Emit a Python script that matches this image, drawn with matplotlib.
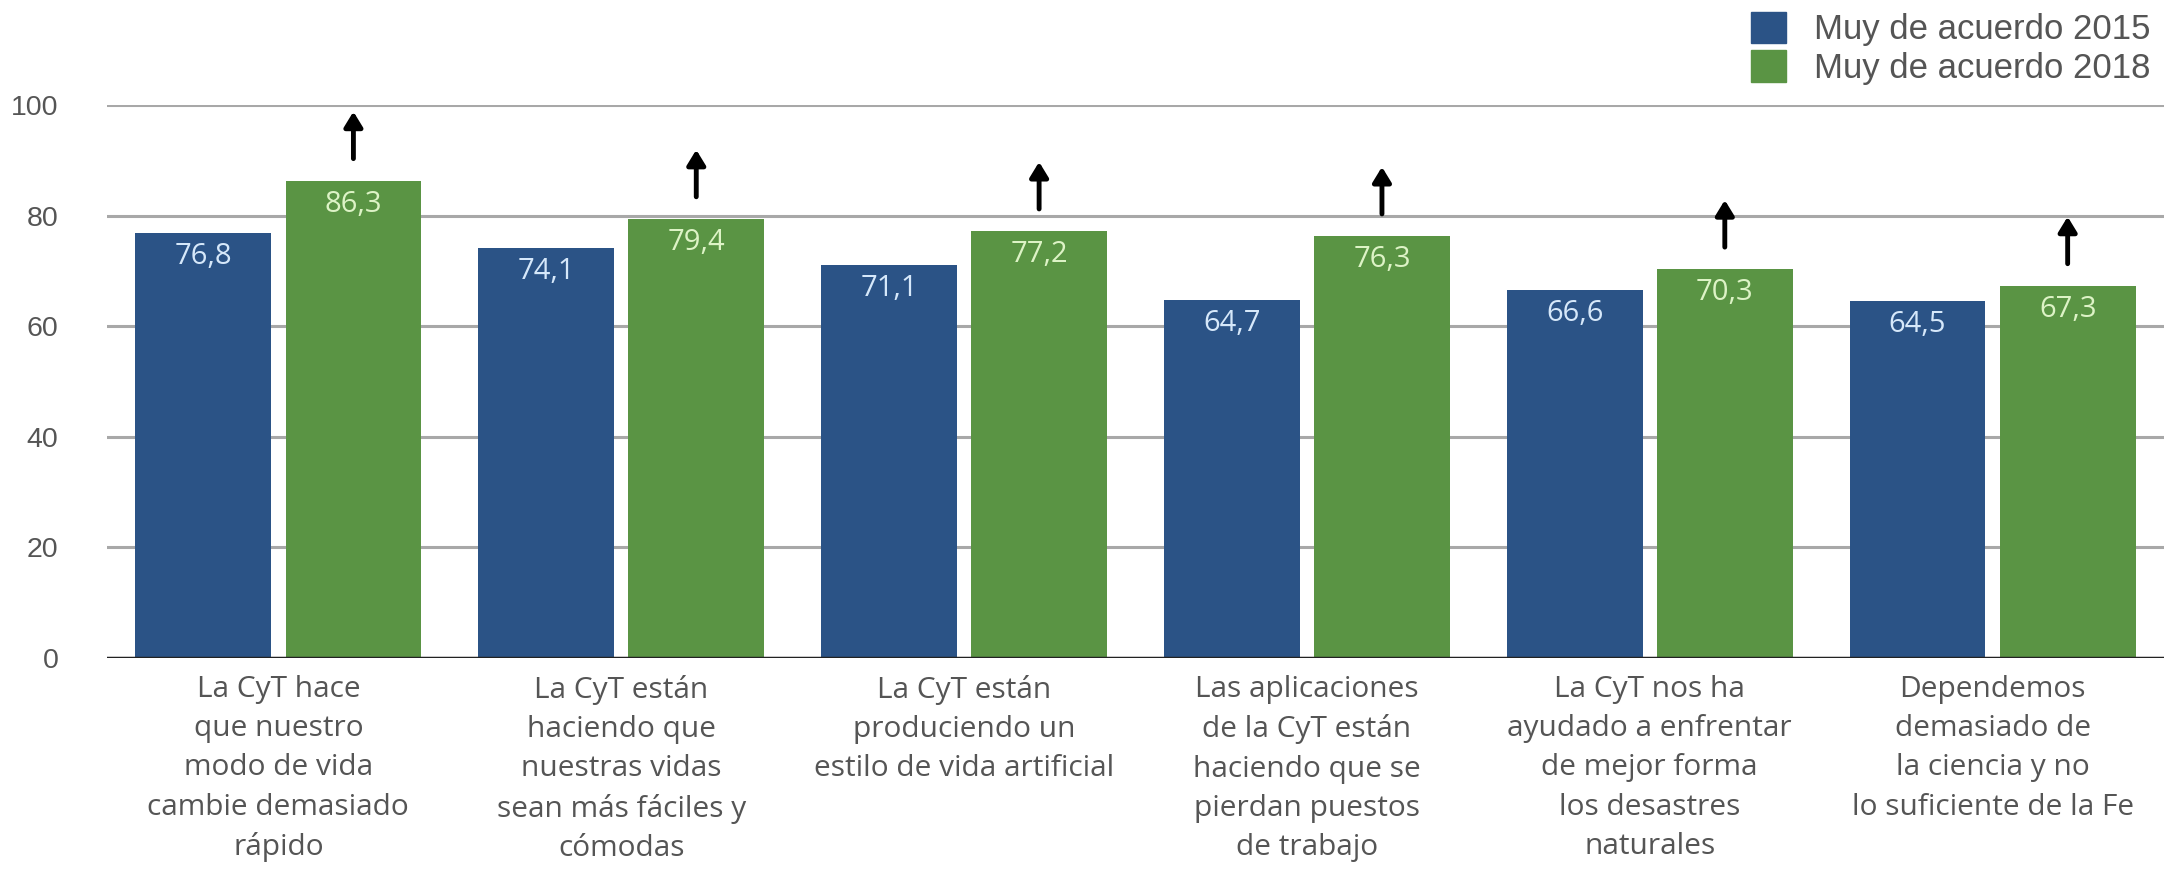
import matplotlib
matplotlib.use("Agg")
import matplotlib.pyplot as plt
import numpy as np
from matplotlib.patches import Patch

categories = [
    "La CyT hace\nque nuestro\nmodo de vida\ncambie demasiado\nrápido",
    "La CyT están\nhaciendo que\nnuestras vidas\nsean más fáciles y\ncómodas",
    "La CyT están\nproduciendo un\nestilo de vida artificial",
    "Las aplicaciones\nde la CyT están\nhaciendo que se\npierdan puestos\nde trabajo",
    "La CyT nos ha\nayudado a enfrentar\nde mejor forma\nlos desastres\nnaturales",
    "Dependemos\ndemasiado de\nla ciencia y no\nlo suficiente de la Fe",
]
values_2015 = [76.8, 74.1, 71.1, 64.7, 66.6, 64.5]
values_2018 = [86.3, 79.4, 77.2, 76.3, 70.3, 67.3]
series_names = ["Muy de acuerdo 2015", "Muy de acuerdo 2018"]
yticks = [0, 20, 40, 60, 80, 100]

c15 = "#2B5386"
c18 = "#5A9444"
txt15 = "#D6E8FA"
txt18 = "#DDF3C6"
label_font = "Open Sans"
tick_font = "Liberation Sans"

fig = plt.figure(figsize=(21.64, 8.8), dpi=100)
ax = fig.add_axes([0.0494, 0.2523, 0.9506, 0.6284])

x = np.arange(len(categories))
w = 0.396
off = 0.219
ax.bar(x - off, values_2015, w, color=c15, zorder=3)
ax.bar(x + off, values_2018, w, color=c18, zorder=3)

for xi, v in zip(x - off, values_2015):
    ax.text(xi, v - 1.6, f"{v:.1f}".replace(".", ","), ha="center", va="top",
            color=txt15, fontsize=21, family=label_font, zorder=4)
for xi, v in zip(x + off, values_2018):
    ax.text(xi, v - 1.6, f"{v:.1f}".replace(".", ","), ha="center", va="top",
            color=txt18, fontsize=21, family=label_font, zorder=4)
    ax.annotate("", xy=(xi, v + 12.5), xytext=(xi, v + 4),
                arrowprops=dict(arrowstyle="-|>,head_length=0.9,head_width=0.55",
                                color="black", lw=3.5, shrinkA=0, shrinkB=0),
                zorder=5)

ax.set_xlim(-0.5, len(categories) - 0.5)
ax.set_ylim(0, 100)
ax.set_yticks(yticks)
ax.set_yticklabels([str(t) for t in yticks], fontsize=20.5, color="#555555",
                   family=tick_font)
ax.set_xticks(x)
ax.set_xticklabels(categories, fontsize=21.5, color="#555555", family=label_font,
                   linespacing=1.47)
ax.tick_params(axis="both", length=0)
ax.tick_params(axis="y", pad=35)
ax.tick_params(axis="x", pad=12)
for s in ax.spines.values():
    s.set_visible(False)
ax.yaxis.grid(True, color="#A8A8A8", lw=2.2, zorder=0)
ax.axhline(0, color="#222222", lw=2.5, zorder=4)

handles = [Patch(color=c15), Patch(color=c18)]
fig.legend(handles, series_names, loc="upper right", bbox_to_anchor=(1.008, 1.022),
           frameon=False, prop={"family": tick_font, "size": 25},
           handlelength=1.0, handleheight=1.0, handletextpad=0.8,
           labelspacing=0.12, labelcolor="#555555")

fig.savefig("out.png", dpi=100, facecolor="white")
